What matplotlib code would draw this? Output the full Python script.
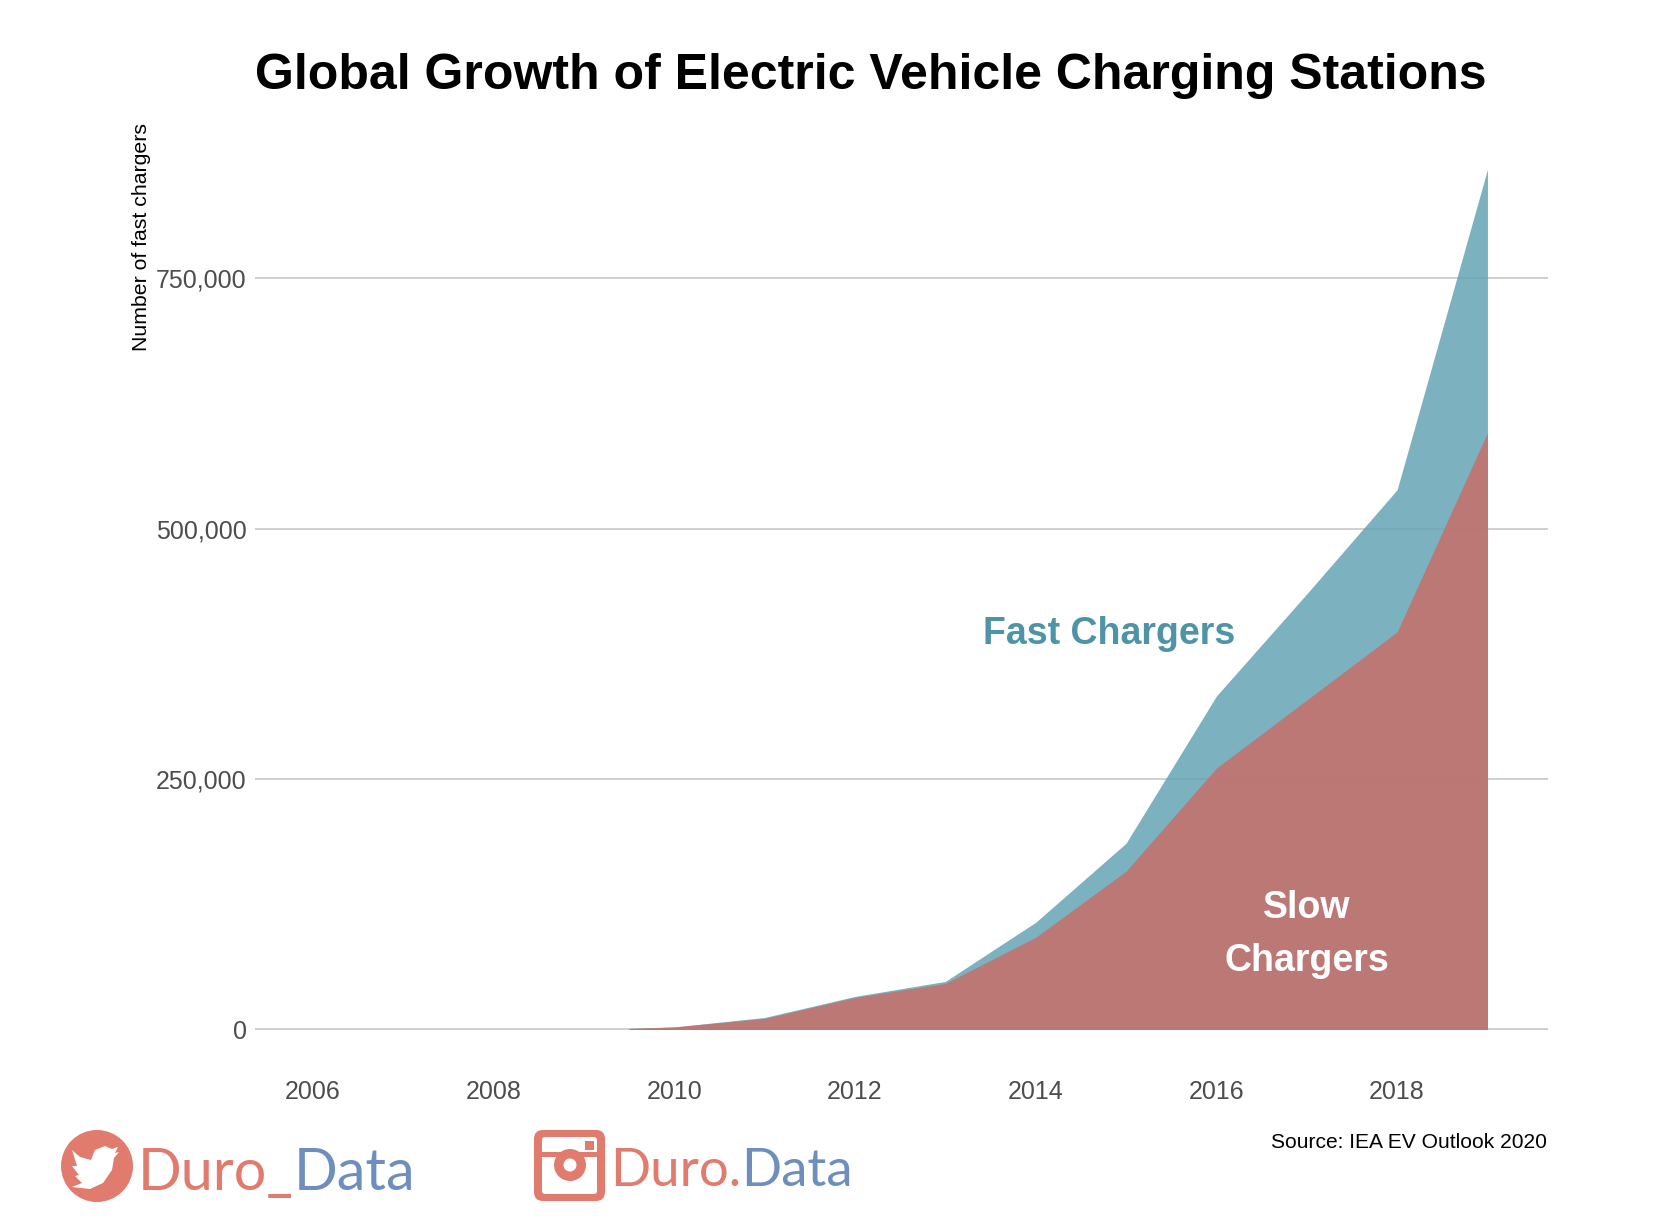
import matplotlib
matplotlib.use("Agg")
import matplotlib.pyplot as plt
from matplotlib.patches import Circle, FancyBboxPatch, Polygon, Rectangle
import numpy as np

plt.rcParams["font.family"] = ["Liberation Sans", "DejaVu Sans"]

years = [2009.5, 2010, 2011, 2012, 2013, 2014, 2015, 2016, 2017, 2018, 2019]
slow = [1000, 2500, 11000, 32000, 46000, 92000, 158000, 261000, 329000, 397000, 596000]
fast = [0, 0, 1000, 1000, 2000, 15000, 28000, 72000, 106000, 142000, 263000]

y_ticks = [0, 250000, 500000, 750000]
x_ticks = [2006, 2008, 2010, 2012, 2014, 2016, 2018]

W, H = 1666, 1230
RED = "#E07B6E"
BLUE = "#6E8FBE"

fig = plt.figure(figsize=(W / 100, H / 100), dpi=100)
ax = fig.add_axes([255 / W, 1 - 1060 / H, (1548 - 255) / W, (1060 - 150) / H])

# panel limits chosen so that 0 sits at y=1029.5px and 750k at y=278.5px
ax.set_xlim(2005.36, 2019.67)
ax.set_ylim(-30500, 878300)

slow = np.array(slow)
total = slow + np.array(fast)
ax.fill_between(years, 0, total, color="#65A4B4", alpha=0.85, lw=0, zorder=2)
ax.fill_between(years, 0, slow, color="#C76E67", alpha=0.85, lw=0, zorder=3)

ax.set_yticks(y_ticks)
ax.set_yticklabels([f"{v:,}" for v in y_ticks])
ax.set_xticks(x_ticks)
ax.tick_params(axis="both", length=0, labelsize=18, labelcolor="#4D4D4D")
ax.tick_params(axis="x", pad=14.5)
ax.tick_params(axis="y", pad=6)
ax.grid(axis="y", color="#CCCCCC", lw=1.3, zorder=1)
ax.grid(axis="x", visible=False)
ax.set_axisbelow(True)
for s in ax.spines.values():
    s.set_visible(False)

ax.text(2014.81, 395000, "Fast Chargers", color="#4F93A6", fontsize=27,
        fontweight="bold", ha="center", va="center", zorder=4)
ax.text(2017.0, 95000, "Slow\nChargers", color="white", fontsize=27,
        fontweight="bold", ha="center", va="center", linespacing=1.62, zorder=4)

# everything outside the panel goes on a pixel-coordinate overlay
ov = fig.add_axes([0, 0, 1, 1], facecolor="none")
ov.set_xlim(0, W)
ov.set_ylim(H, 0)
ov.axis("off")

ov.text(871, 76, "Global Growth of Electric Vehicle Charging Stations",
        fontsize=36, fontweight="bold", color="black", ha="center", va="center")
ov.text(142, 237, "Number of fast chargers", fontsize=15.3, rotation=90,
        color="black", ha="center", va="center")
ov.text(1547, 1143, "Source: IEA EV Outlook 2020", fontsize=15.1, color="black",
        ha="right", va="center")

# twitter badge
ov.add_patch(Circle((97, 1166), 36, color=RED, lw=0))
bird = [(72, 1150), (80, 1157), (91, 1160), (95, 1150), (105, 1146), (112, 1149),
        (118, 1147), (115, 1153), (119, 1152), (114, 1158), (112, 1170), (103, 1183),
        (90, 1189), (72, 1187), (82, 1183), (75, 1176), (79, 1175), (72, 1166), (77, 1166)]
ov.add_patch(Polygon(bird, closed=True, color="white", lw=0))

# instagram badge
ov.add_patch(FancyBboxPatch((534, 1130), 71, 71, boxstyle="round,pad=0,rounding_size=9",
                            fc=RED, ec="none"))
ov.add_patch(FancyBboxPatch((542, 1137), 55, 57, boxstyle="round,pad=0,rounding_size=3",
                            fc="white", ec="none"))
ov.add_patch(Rectangle((542, 1152), 55, 5, color=RED, lw=0))
ov.add_patch(Circle((570, 1165), 16, color=RED, lw=0))
ov.add_patch(Circle((570, 1165), 6.5, color="white", lw=0))
ov.add_patch(Rectangle((585, 1141), 9, 9, color=RED, lw=0))


def run_of_text(x, y, parts, size):
    # lay differently coloured pieces one after another on a baseline
    r = fig.canvas.get_renderer()
    for s, c in parts:
        t = ov.text(x, y, s, color=c, fontsize=size, fontfamily=["Lato", "DejaVu Sans"],
                    ha="left", va="baseline")
        x += t.get_window_extent(r).width


run_of_text(138, 1190, [("Duro_", RED), ("Data", BLUE)], 41.5)
run_of_text(610, 1186, [("Duro.", RED), ("Data", BLUE)], 38)

fig.savefig("out.png", dpi=100, facecolor="white")
